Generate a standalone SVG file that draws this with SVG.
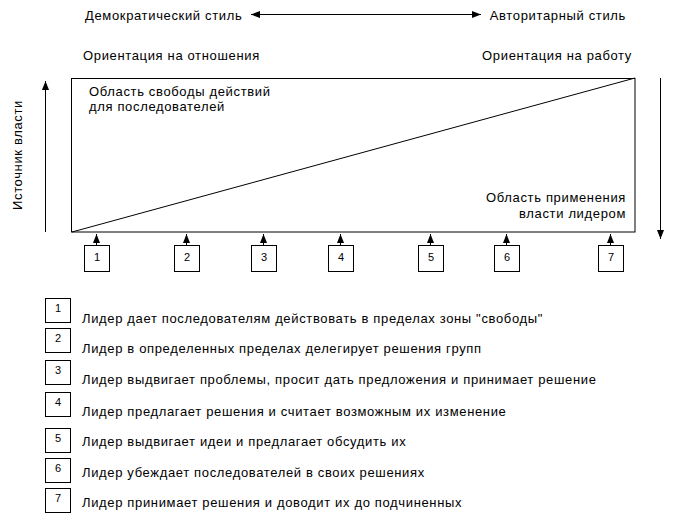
<svg xmlns="http://www.w3.org/2000/svg" width="675" height="517" viewBox="0 0 675 517">
<style>
text{font-family:"Liberation Sans",Arial,sans-serif;font-size:13px;fill:#000;letter-spacing:0.65px}
.num{font-size:11px;text-anchor:middle;letter-spacing:0}
.box{fill:#fff;stroke:#000;stroke-width:1}
.ln{stroke:#000;stroke-width:1;fill:none}
</style>
<defs>
<marker id="ah" markerUnits="userSpaceOnUse" markerWidth="10" markerHeight="8" refX="9" refY="4" orient="auto-start-reverse">
<path d="M0,0.5 L9,4 L0,7.5 Z" fill="#000"/>
</marker>
</defs>
<rect fill="#fff" width="675" height="517"/>
<g id="header">
<text x="85" y="20">Демократический стиль</text>
<text x="626" y="20" text-anchor="end">Авторитарный стиль</text>
<text x="83" y="60">Ориентация на отношения</text>
<text x="632" y="60" text-anchor="end">Ориентация на работу</text>
<text transform="translate(22,155) rotate(-90)" text-anchor="middle">Источник власти</text>
</g>
<g id="field">
<rect class="ln" x="71.5" y="78.5" width="563.5" height="153.5"/>
<line class="ln" x1="72" y1="232" x2="635" y2="78"/>
<text x="89" y="96">Область свободы действий</text>
<text x="89" y="111">для последователей</text>
<text x="626" y="202" text-anchor="end">Область применения</text>
<text x="626" y="218" text-anchor="end">власти лидером</text>
</g>
<g id="connectors">
<line class="ln" x1="251" y1="14.5" x2="481" y2="14.5" marker-start="url(#ah)" marker-end="url(#ah)"/>
<line class="ln" x1="45.5" y1="232" x2="45.5" y2="81" marker-end="url(#ah)"/>
<line class="ln" x1="660.5" y1="78" x2="660.5" y2="239" marker-end="url(#ah)"/>
<line class="ln" x1="96.5" y1="245" x2="96.5" y2="234" marker-end="url(#ah)"/>
<line class="ln" x1="186.5" y1="245" x2="186.5" y2="234" marker-end="url(#ah)"/>
<line class="ln" x1="263.5" y1="245" x2="263.5" y2="234" marker-end="url(#ah)"/>
<line class="ln" x1="340.5" y1="245" x2="340.5" y2="234" marker-end="url(#ah)"/>
<line class="ln" x1="430.5" y1="245" x2="430.5" y2="234" marker-end="url(#ah)"/>
<line class="ln" x1="506.5" y1="245" x2="506.5" y2="234" marker-end="url(#ah)"/>
<line class="ln" x1="610.5" y1="245" x2="610.5" y2="234" marker-end="url(#ah)"/>
</g>
<g id="s1"><rect class="box" x="84.5" y="245.5" width="25" height="26"/><text class="num" x="97" y="261">1</text></g>
<g id="s2"><rect class="box" x="174.5" y="245.5" width="25" height="26"/><text class="num" x="187" y="261">2</text></g>
<g id="s3"><rect class="box" x="251.5" y="245.5" width="25" height="26"/><text class="num" x="264" y="261">3</text></g>
<g id="s4"><rect class="box" x="328.5" y="245.5" width="25" height="26"/><text class="num" x="341" y="261">4</text></g>
<g id="s5"><rect class="box" x="418.5" y="245.5" width="25" height="26"/><text class="num" x="431" y="261">5</text></g>
<g id="s6"><rect class="box" x="494.5" y="245.5" width="25" height="26"/><text class="num" x="507" y="261">6</text></g>
<g id="s7"><rect class="box" x="598.5" y="245.5" width="25" height="26"/><text class="num" x="611" y="261">7</text></g>
<g id="l1"><rect class="box" x="45.5" y="298.5" width="25" height="24"/><text class="num" x="58" y="312">1</text><text x="82" y="323">Лидер дает последователям действовать в пределах зоны "свободы"</text></g>
<g id="l2"><rect class="box" x="45.5" y="328.5" width="25" height="24"/><text class="num" x="58" y="342">2</text><text x="82" y="353">Лидер в определенных пределах делегирует решения групп</text></g>
<g id="l3"><rect class="box" x="45.5" y="360.5" width="25" height="24"/><text class="num" x="58" y="374">3</text><text x="82" y="384">Лидер выдвигает проблемы, просит дать предложения и принимает решение</text></g>
<g id="l4"><rect class="box" x="45.5" y="392.5" width="25" height="24"/><text class="num" x="58" y="406">4</text><text x="82" y="416">Лидер предлагает решения и считает возможным их изменение</text></g>
<g id="l5"><rect class="box" x="45.5" y="428.5" width="25" height="24"/><text class="num" x="58" y="442">5</text><text x="82" y="446">Лидер выдвигает идеи и предлагает обсудить их</text></g>
<g id="l6"><rect class="box" x="45.5" y="458.5" width="25" height="24"/><text class="num" x="58" y="472">6</text><text x="82" y="477">Лидер убеждает последователей в своих решениях</text></g>
<g id="l7"><rect class="box" x="45.5" y="488.5" width="25" height="24"/><text class="num" x="58" y="502">7</text><text x="82" y="507">Лидер принимает решения и доводит их до подчиненных</text></g>
</svg>
